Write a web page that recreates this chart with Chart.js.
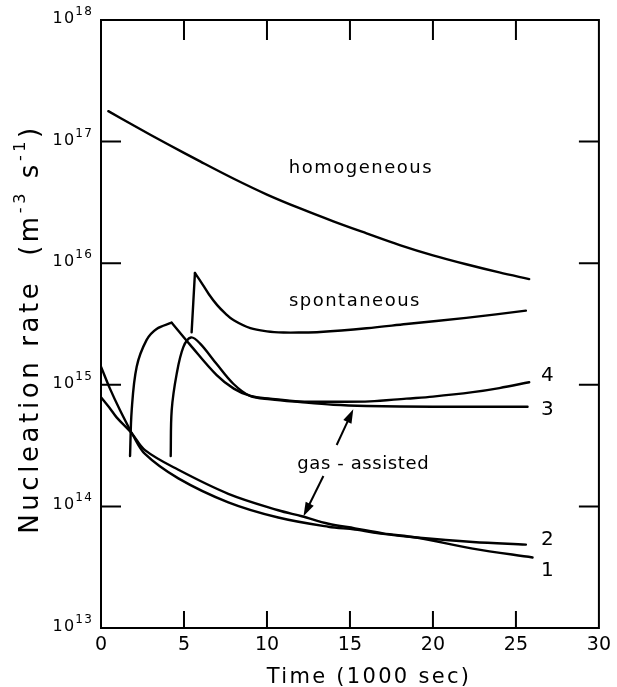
<!DOCTYPE html>
<html>
<head>
<meta charset="utf-8">
<script src="https://cdn.jsdelivr.net/npm/chart.js@4/dist/chart.umd.min.js"></script>
<style>
html,body{margin:0;padding:0;background:#fff;}
#wrap{width:617px;height:687px;}
</style>
</head>
<body>
<div id="wrap"><canvas id="c" width="617" height="687"></canvas></div>
<script>
// ---- data (time in 1000 s, nucleation rate in m^-3 s^-1) ----
const xTicks = [0, 5, 10, 15, 20, 25, 30];
const yDecades = [13, 14, 15, 16, 17, 18];

const homogeneousX = [0.44, 2, 4, 6, 8, 10, 12, 14, 16, 18, 20, 22, 24, 25.8];
const homogeneousY = [1.78e17, 1.35e17, 9.55e16, 6.84e16, 4.95e16, 3.67e16, 2.82e16, 2.21e16, 1.76e16, 1.41e16, 1.16e16, 9.8e15, 8.4e15, 7.4e15];

const spontaneousX = [5.46, 5.66, 6.0, 6.5, 7.0, 7.5, 8.0, 9.0, 10, 11, 12, 13.2, 16, 18.4, 22, 25.6];
const spontaneousY = [2.7e15, 8.3e15, 7.1e15, 5.56e15, 4.52e15, 3.85e15, 3.39e15, 2.92e15, 2.75e15, 2.69e15, 2.69e15, 2.72e15, 2.92e15, 3.16e15, 3.55e15, 4.07e15];

const gas4X = [1.75, 1.85, 2.15, 2.75, 3.35, 4.26, 5.36, 6.97, 8.0, 9.0, 10.2, 12, 14, 16.2, 18.4, 20, 22.4, 24, 25.8];
const gas4Y = [2.6e14, 6.2e14, 1.41e15, 2.34e15, 2.88e15, 3.24e15, 2.14e15, 1.2e15, 9.3e14, 8.1e14, 7.7e14, 7.3e14, 7.25e14, 7.3e14, 7.7e14, 8.0e14, 8.7e14, 9.4e14, 1.05e15];

const gas3X = [4.2, 4.26, 4.56, 4.96, 5.42, 5.96, 6.97, 7.97, 8.98, 10.2, 12, 14, 16, 20, 25.7];
const gas3Y = [2.6e14, 6.2e14, 1.23e15, 2.04e15, 2.45e15, 2.19e15, 1.48e15, 1.02e15, 8.1e14, 7.6e14, 7.2e14, 6.85e14, 6.7e14, 6.6e14, 6.6e14];

const gas2X = [0, 0.54, 1.14, 1.85, 2.65, 4.66, 7.67, 10.68, 13.7, 15.3, 17, 19, 22.4, 25.6];
const gas2Y = [1.41e15, 9.3e14, 6.2e14, 4.0e14, 2.7e14, 1.7e14, 1.08e14, 8.1e13, 6.8e13, 6.45e13, 5.95e13, 5.55e13, 5.1e13, 4.85e13];

const gas1X = [0, 0.5, 0.94, 1.85, 2.65, 4.66, 7.67, 10.68, 12.1, 13.7, 15.3, 17, 19, 22.4, 26];
const gas1Y = [7.9e14, 6.5e14, 5.4e14, 4.0e14, 2.9e14, 2.0e14, 1.27e14, 9.3e13, 8.3e13, 7.2e13, 6.6e13, 6.0e13, 5.55e13, 4.5e13, 3.8e13];

// curves: corner = index of a sharp vertex (split there so the cusp stays sharp)
const curves = [
  {name: 'homogeneous', xs: homogeneousX, ys: homogeneousY, corner: null},
  {name: 'spontaneous', xs: spontaneousX, ys: spontaneousY, corner: 1},
  {name: '4', xs: gas4X, ys: gas4Y, corner: 5},
  {name: '3', xs: gas3X, ys: gas3Y, corner: null},
  {name: '2', xs: gas2X, ys: gas2Y, corner: 3},
  {name: '1', xs: gas1X, ys: gas1Y, corner: null}
];

// text annotations anchored in data coordinates
const textLabels = [
  {text: 'homogeneous', x: 15.66, y: 6.2e16, size: 18, sp: 1.5},
  {text: 'spontaneous', x: 15.3, y: 5.0e15, size: 18, sp: 1.5},
  {text: 'gas - assisted', x: 15.8, y: 2.3e14, size: 18, sp: 0.6},
  {text: '4', x: 26.9, y: 1.23e15, size: 20, sp: 0},
  {text: '3', x: 26.9, y: 6.5e14, size: 20, sp: 0},
  {text: '2', x: 26.9, y: 5.5e13, size: 20, sp: 0},
  {text: '1', x: 26.9, y: 3.06e13, size: 20, sp: 0}
];
const arrows = [
  {from: [14.2, 3.2e14], to: [15.2, 6.3e14]},
  {from: [13.4, 1.78e14], to: [12.2, 8.3e13]}
];

const FONT = '"DejaVu Sans", sans-serif';

function toPts(xs, ys) { return xs.map((x, i) => ({x: x, y: ys[i]})); }

const datasets = [];
curves.forEach(c => {
  const pts = toPts(c.xs, c.ys);
  const parts = c.corner == null ? [pts] : [pts.slice(0, c.corner + 1), pts.slice(c.corner)];
  parts.forEach(p => datasets.push({
    label: c.name,
    data: p,
    borderColor: '#000',
    borderWidth: 2.4,
    pointRadius: 0,
    fill: false,
    tension: 0.35
  }));
});

function drawRich(ctx, segs, x, y, align, spacing) {
  ctx.letterSpacing = (spacing || 0) + 'px';
  let total = 0;
  const widths = segs.map(s => { ctx.font = s.s + 'px ' + FONT; const w = ctx.measureText(s.t).width; total += w; return w; });
  let cx = align === 'right' ? x - total : align === 'center' ? x - total / 2 : x;
  ctx.textAlign = 'left';
  ctx.textBaseline = 'alphabetic';
  segs.forEach((s, i) => {
    ctx.font = s.s + 'px ' + FONT;
    ctx.fillText(s.t, cx, y + (s.dy || 0));
    cx += widths[i];
  });
  ctx.letterSpacing = '0px';
}

function drawArrow(ctx, x0, y0, x1, y1) {
  const a = Math.atan2(y1 - y0, x1 - x0);
  const L = 14, W = 4.5;
  ctx.lineWidth = 2;
  ctx.beginPath();
  ctx.moveTo(x0, y0);
  ctx.lineTo(x1 - L * 0.7 * Math.cos(a), y1 - L * 0.7 * Math.sin(a));
  ctx.stroke();
  ctx.beginPath();
  ctx.moveTo(x1, y1);
  ctx.lineTo(x1 - L * Math.cos(a) + W * Math.sin(a), y1 - L * Math.sin(a) - W * Math.cos(a));
  ctx.lineTo(x1 - L * Math.cos(a) - W * Math.sin(a), y1 - L * Math.sin(a) + W * Math.cos(a));
  ctx.closePath();
  ctx.fill();
}

const decor = {
  id: 'decor',
  afterDraw(chart) {
    const ctx = chart.ctx, a = chart.chartArea, xs = chart.scales.x, ys = chart.scales.y;
    ctx.save();
    ctx.strokeStyle = '#000';
    ctx.fillStyle = '#000';
    ctx.lineWidth = 2;
    ctx.strokeRect(a.left, a.top, a.right - a.left, a.bottom - a.top);
    ctx.beginPath();
    xTicks.forEach(v => {
      if (v > xs.min && v < xs.max) {
        const p = xs.getPixelForValue(v);
        ctx.moveTo(p, a.bottom); ctx.lineTo(p, a.bottom - 17);
        ctx.moveTo(p, a.top); ctx.lineTo(p, a.top + 20);
      }
    });
    yDecades.forEach(e => {
      const v = Math.pow(10, e);
      if (v > ys.min && v < ys.max) {
        const p = ys.getPixelForValue(v);
        ctx.moveTo(a.left, p); ctx.lineTo(a.left + 20, p);
        ctx.moveTo(a.right, p); ctx.lineTo(a.right - 20, p);
      }
    });
    ctx.stroke();

    // y tick labels 10^n
    yDecades.forEach(e => {
      const p = ys.getPixelForValue(Math.pow(10, e));
      drawRich(ctx, [{t: '10', s: 16}, {t: String(e), s: 12, dy: -8}], a.left - 8, p + 3, 'right', 1.2);
    });

    // y axis title (rotated)
    ctx.save();
    ctx.translate(38, 329);
    ctx.rotate(-Math.PI / 2);
    drawRich(ctx, [
      {t: 'Nucleation rate  (m', s: 26},
      {t: '-3', s: 16, dy: -13},
      {t: ' s', s: 26},
      {t: '-1', s: 16, dy: -13},
      {t: ')', s: 26}
    ], 0, 0, 'center', 3.6);
    ctx.restore();

    // x axis title
    drawRich(ctx, [{t: 'Time (1000 sec)', s: 21}], 369, 683, 'center', 2.3);

    // annotations
    textLabels.forEach(l => {
      const px = xs.getPixelForValue(l.x), py = ys.getPixelForValue(l.y);
      drawRich(ctx, [{t: l.text, s: l.size}], px, py + l.size * 0.36, 'center', l.sp);
    });
    arrows.forEach(ar => {
      drawArrow(ctx, xs.getPixelForValue(ar.from[0]), ys.getPixelForValue(ar.from[1]),
                     xs.getPixelForValue(ar.to[0]), ys.getPixelForValue(ar.to[1]));
    });
    ctx.restore();
  }
};

new Chart(document.getElementById('c'), {
  type: 'line',
  data: {datasets: datasets},
  options: {
    responsive: false,
    animation: false,
    devicePixelRatio: 1,
    layout: {padding: {top: 20, right: 18, left: 0, bottom: 0}},
    plugins: {legend: {display: false}, tooltip: {enabled: false}},
    elements: {line: {borderCapStyle: 'round', borderJoinStyle: 'round'}},
    scales: {
      x: {
        type: 'linear', min: 0, max: 30,
        grid: {display: false, drawTicks: false},
        border: {display: false},
        ticks: {stepSize: 5, color: '#000', padding: 6, font: {family: FONT, size: 19}, maxRotation: 0},
        afterFit(s) { s.height = 59; }
      },
      y: {
        type: 'logarithmic', min: 1e13, max: 1e18,
        grid: {display: false, drawTicks: false},
        border: {display: false},
        ticks: {display: false},
        afterFit(s) { s.width = 101; }
      }
    }
  },
  plugins: [decor]
});
</script>
</body>
</html>
